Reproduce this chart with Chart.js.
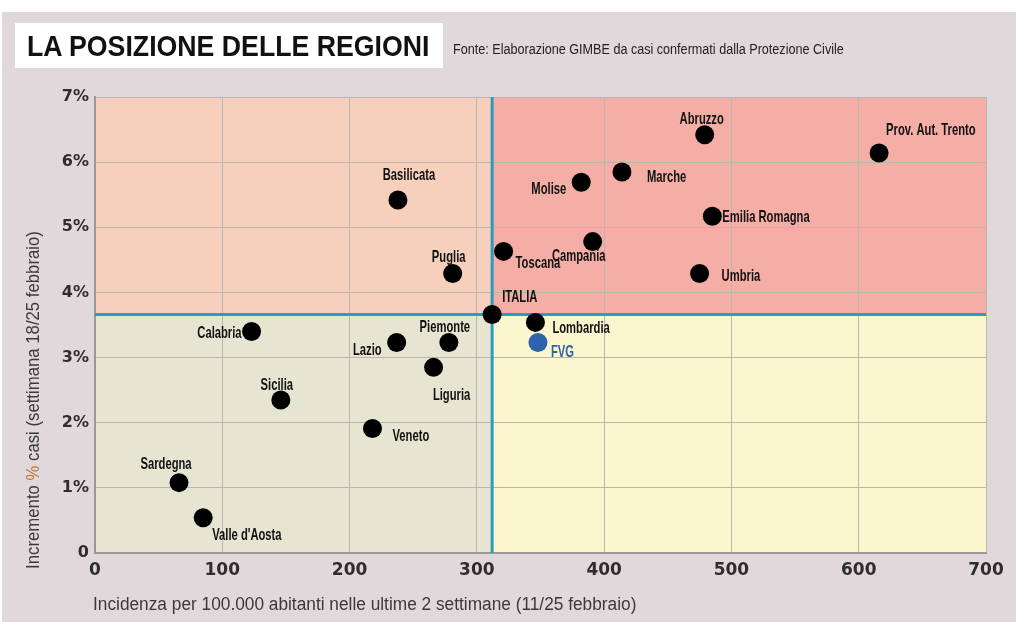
<!DOCTYPE html>
<html>
<head>
<meta charset="utf-8">
<script src="https://cdn.jsdelivr.net/npm/chart.js@4/dist/chart.umd.min.js"></script>
<style>
  body { margin: 0; background: #ffffff; }
  #wrap { position: absolute; left: 2px; top: 12px; width: 1014px; height: 610px; background: #e1d8dc; }
  #titleBox { position: absolute; left: 15px; top: 23px; width: 428px; height: 45px; background: #ffffff; }
  #title { position: absolute; left: 27px; top: 29px; height: 45px; line-height: 46px;
           font: bold 30px 'Liberation Sans', Arial, sans-serif; color: #111;
           white-space: nowrap; transform: scaleX(0.89); transform-origin: 0 0; }
  #source { position: absolute; left: 453px; top: 41px; font: 14px 'Liberation Sans', Arial, sans-serif;
            color: #222; white-space: nowrap; transform: scaleX(0.9); transform-origin: 0 0; }
  canvas { position: absolute; left: 0; top: 0; }
</style>
</head>
<body>
<div id="wrap"></div>
<div id="titleBox"></div>
<canvas id="regionChart" width="1016" height="622"></canvas>
<div id="title">LA POSIZIONE DELLE REGIONI</div>
<div id="source">Fonte: Elaborazione GIMBE da casi confermati dalla Protezione Civile</div>
<script>
// regioni: incidenza per 100.000 ab. (x) e incremento % casi (y)
let regions = ['Abruzzo', 'Prov. Aut. Trento', 'Marche', 'Molise', 'Basilicata', 'Emilia Romagna',
               'Campania', 'Toscana', 'Umbria', 'Puglia', 'Lombardia', 'Calabria', 'Lazio',
               'Piemonte', 'Liguria', 'Sicilia', 'Veneto', 'Sardegna', "Valle d'Aosta"];
let incidence = [479, 616, 414, 382, 238, 485, 391, 321, 475, 281, 346, 123, 237, 278, 266, 146, 218, 66, 85];
let increase = [6.42, 6.14, 5.85, 5.69, 5.42, 5.17, 4.78, 4.63, 4.29, 4.29, 3.54, 3.40, 3.23, 3.23, 2.85, 2.35, 1.91, 1.08, 0.54];

let italiaX = 312;
let italiaY = 3.66;
let fvgX = 348;
let fvgY = 3.23;

let xTicks = [0, 100, 200, 300, 400, 500, 600, 700];
let yTicks = [0, 1, 2, 3, 4, 5, 6, 7];

let xTitle = 'Incidenza per 100.000 abitanti nelle ultime 2 settimane (11/25 febbraio)';
let yTitle = ['Incremento ', '%', ' casi (settimana 18/25 febbraio)'];

// label offsets from the dot: dx, dy, align
let labelPos = {
  'Abruzzo': [-3, -15, 'center'],
  'Prov. Aut. Trento': [7, -23, 'left'],
  'Marche': [25, 5, 'left'],
  'Molise': [-15, 7, 'right'],
  'Basilicata': [11, -25, 'center'],
  'Emilia Romagna': [10, 1, 'left'],
  'Campania': [-14, 15, 'center'],
  'Toscana': [12, 12, 'left'],
  'Umbria': [22, 3, 'left'],
  'Puglia': [-4, -16, 'center'],
  'ITALIA': [10, -17, 'left'],
  'Lombardia': [17, 6, 'left'],
  'FVG': [13, 10, 'left'],
  'Calabria': [-10, 2, 'right'],
  'Lazio': [-15, 8, 'right'],
  'Piemonte': [-4, -15, 'center'],
  'Liguria': [18, 28, 'center'],
  'Sicilia': [-4, -15, 'center'],
  'Veneto': [20, 8, 'left'],
  'Sardegna': [-13, -18, 'center'],
  "Valle d'Aosta": [9, 17, 'left']
};

let sans = "'Liberation Sans', Arial, sans-serif";

function buildPoints() {
  let pts = [];
  for (let i = 0; i < regions.length; i++) {
    pts.push({ x: incidence[i], y: increase[i], name: regions[i] });
  }
  pts.push({ x: italiaX, y: italiaY, name: 'ITALIA' });
  return pts;
}

// squeezed text, to look like the condensed newspaper font
function drawNarrow(ctx, text, x, y, align, sx) {
  ctx.save();
  ctx.translate(x, y);
  ctx.scale(sx, 1);
  ctx.textAlign = align;
  ctx.fillText(text, 0, 0);
  ctx.restore();
}

let quadrants = {
  id: 'quadrants',
  beforeDraw(chart) {
    let ctx = chart.ctx;
    let a = chart.chartArea;
    let mx = chart.scales.x.getPixelForValue(italiaX);
    let my = chart.scales.y.getPixelForValue(italiaY);
    ctx.save();
    ctx.fillStyle = '#f6d0bd';
    ctx.fillRect(a.left, a.top, mx - a.left, my - a.top);
    ctx.fillStyle = '#f4aea5';
    ctx.fillRect(mx, a.top, a.right - mx, my - a.top);
    ctx.fillStyle = '#e5e5d1';
    ctx.fillRect(a.left, my, mx - a.left, a.bottom - my);
    ctx.fillStyle = '#fbf6cd';
    ctx.fillRect(mx, my, a.right - mx, a.bottom - my);
    ctx.restore();
  },
  beforeDatasetsDraw(chart) {
    let ctx = chart.ctx;
    let a = chart.chartArea;
    let mx = chart.scales.x.getPixelForValue(italiaX);
    let my = chart.scales.y.getPixelForValue(italiaY);
    ctx.save();
    ctx.strokeStyle = '#2b9bbf';
    ctx.lineWidth = 3;
    ctx.beginPath();
    ctx.moveTo(a.left, my);
    ctx.lineTo(a.right, my);
    ctx.moveTo(mx, a.top);
    ctx.lineTo(mx, a.bottom);
    ctx.stroke();
    ctx.restore();
  },
  afterDatasetsDraw(chart) {
    let ctx = chart.ctx;
    ctx.save();
    ctx.font = 'bold 17px ' + sans;
    ctx.textBaseline = 'middle';
    chart.data.datasets.forEach(function(ds, di) {
      let meta = chart.getDatasetMeta(di);
      meta.data.forEach(function(el, i) {
        let name = ds.data[i].name;
        let off = labelPos[name] || [10, 0, 'left'];
        ctx.fillStyle = name === 'FVG' ? '#2d63a8' : '#111111';
        drawNarrow(ctx, name, el.x + off[0], el.y + off[1], off[2], 0.66);
      });
    });
    ctx.restore();
  },
  afterDraw(chart) {
    // axis titles
    let ctx = chart.ctx;
    let a = chart.chartArea;
    ctx.save();
    ctx.font = '18px ' + sans;
    ctx.textBaseline = 'middle';
    ctx.fillStyle = '#3a3a3a';
    drawNarrow(ctx, xTitle, a.left - 2, 605, 'left', 0.96);

    ctx.translate(34, 400);
    ctx.rotate(-Math.PI / 2);
    ctx.scale(0.93, 1);
    ctx.textAlign = 'left';
    let total = ctx.measureText(yTitle.join('')).width;
    let pos = -total / 2;
    yTitle.forEach(function(part, i) {
      ctx.fillStyle = i === 1 ? '#c0763a' : '#3a3a3a';
      ctx.fillText(part, pos, 0);
      pos += ctx.measureText(part).width;
    });
    ctx.restore();
  }
};

let ctx = document.getElementById('regionChart').getContext('2d');
let myChart = new Chart(ctx, {
  type: 'scatter',
  data: {
    datasets: [{
      data: buildPoints(),
      backgroundColor: '#000000',
      pointRadius: 9.5,
      pointHoverRadius: 9.5,
      borderWidth: 0
    }, {
      data: [{ x: fvgX, y: fvgY, name: 'FVG' }],
      backgroundColor: '#2f62ad',
      pointRadius: 9.5,
      pointHoverRadius: 9.5,
      borderWidth: 0
    }]
  },
  options: {
    responsive: false,
    devicePixelRatio: 1,
    animation: false,
    events: [],
    layout: { padding: { top: 97, right: 30, left: 0, bottom: 0 } },
    plugins: { legend: { display: false }, tooltip: { enabled: false } },
    scales: {
      x: {
        type: 'linear',
        min: 0, max: 700,
        afterBuildTicks(scale) { scale.ticks = xTicks.map(v => ({ value: v })); },
        afterFit(scale) { scale.height = 69; },
        grid: { color: '#bdb4ae', lineWidth: 1, drawTicks: false },
        border: { color: '#9c9896', width: 2 },
        ticks: { color: '#2e2e2e', padding: 7, font: { family: 'DejaVu Sans', weight: 'bold', size: 17 } }
      },
      y: {
        min: 0, max: 7,
        afterBuildTicks(scale) { scale.ticks = yTicks.map(v => ({ value: v })); },
        afterFit(scale) { scale.width = 95; },
        grid: { color: '#bdb4ae', lineWidth: 1, drawTicks: false },
        border: { color: '#9c9896', width: 2 },
        ticks: {
          color: '#2e2e2e', padding: 6,
          font: { family: 'DejaVu Sans', weight: 'bold', size: 16 },
          callback: v => v === 0 ? '0' : v + '%'
        }
      }
    }
  },
  plugins: [quadrants]
});
</script>
</body>
</html>
